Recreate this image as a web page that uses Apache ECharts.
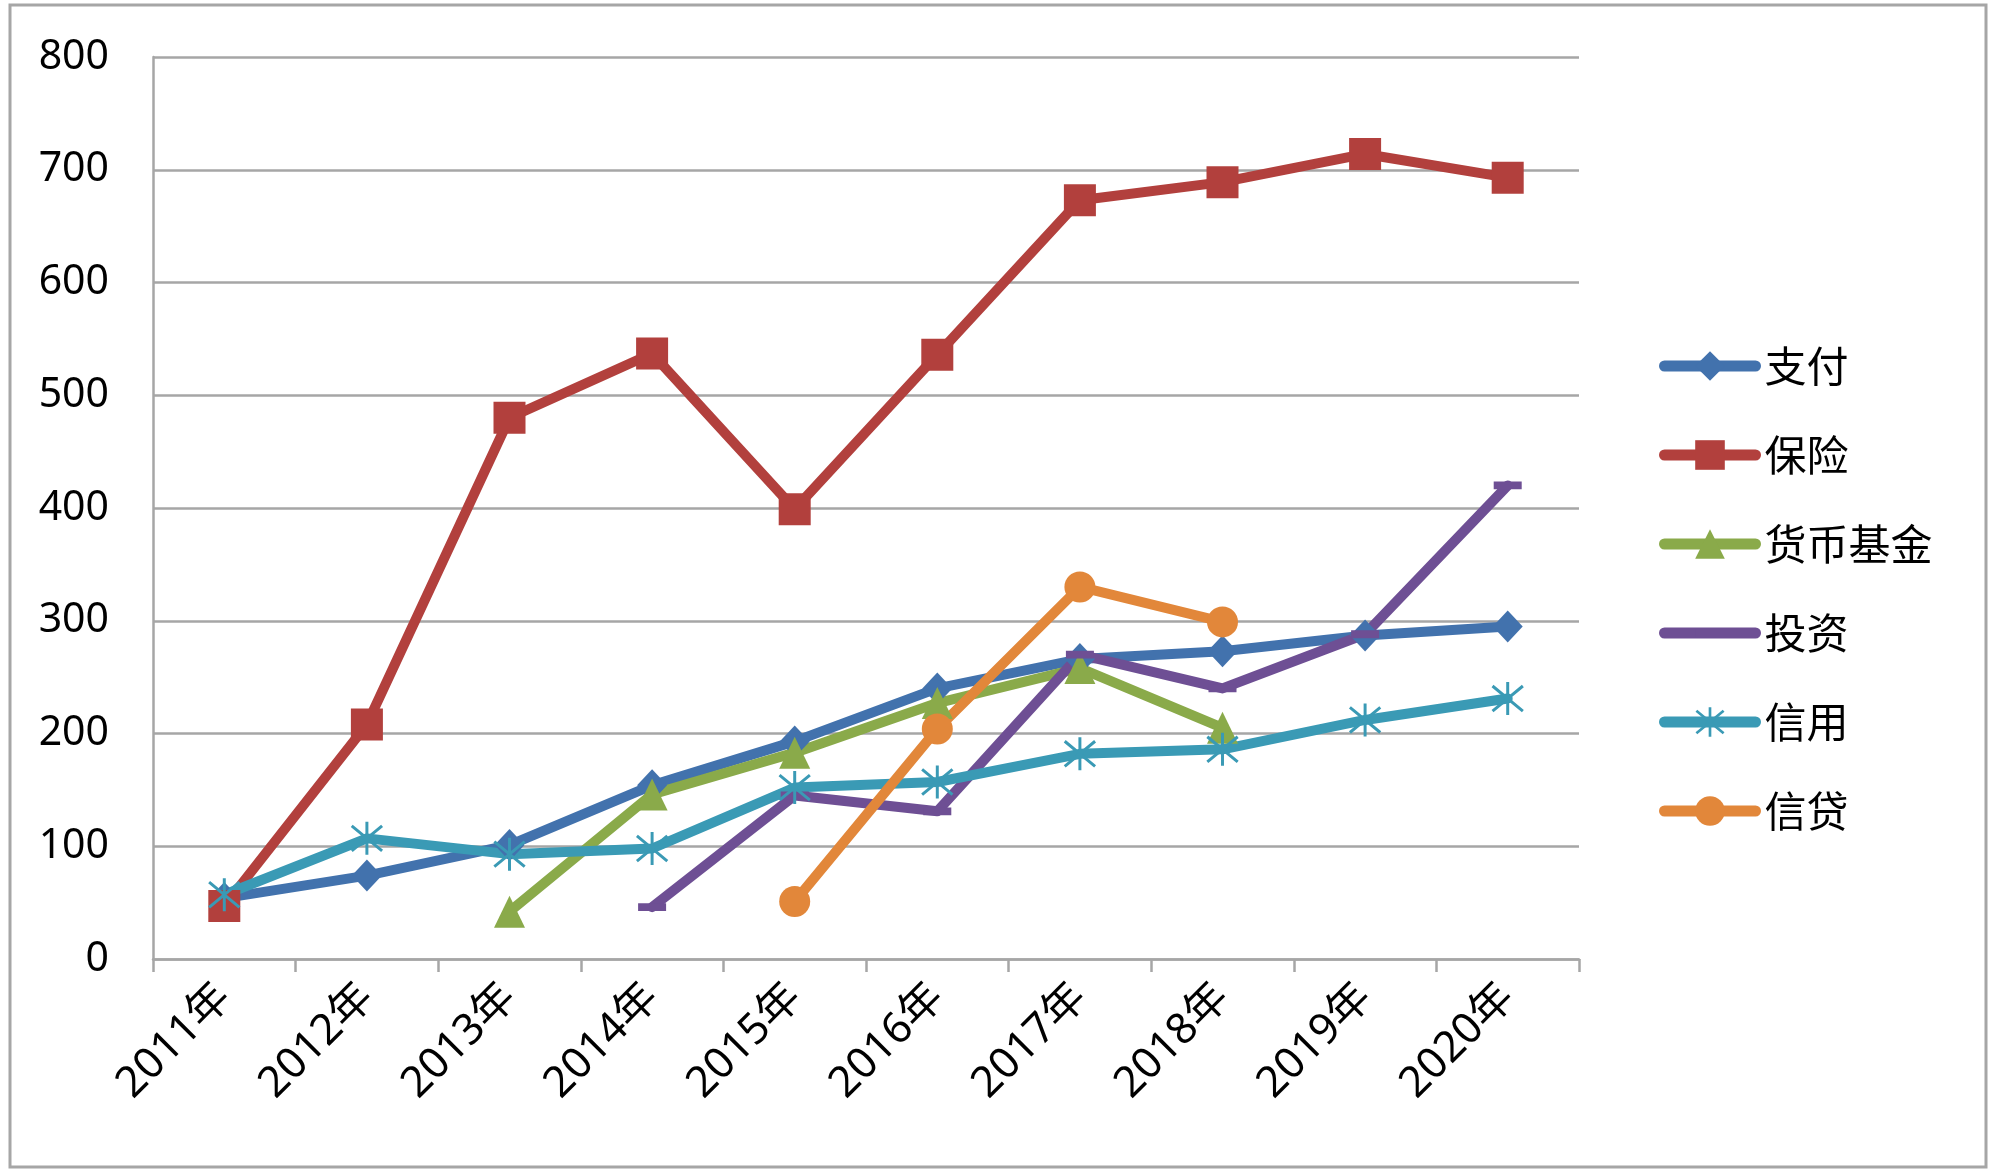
<!DOCTYPE html>
<html>
<head>
<meta charset="utf-8">
<script src="https://cdn.jsdelivr.net/npm/echarts@6/dist/echarts.min.js"></script>
<style>
html,body{margin:0;padding:0;background:#fff;}
#c{width:2000px;height:1176px;}
</style>
</head>
<body>
<div id="c"></div>
<script>
const categories = ['2011年','2012年','2013年','2014年','2015年','2016年','2017年','2018年','2019年','2020年'];
const yTicks = [0,100,200,300,400,500,600,700,800];
const zhifu   = [54, 74, 101, 154, 193, 240, 266, 273, 287, 295];
const baoxian = [47, 208, 480, 537, 399, 536, 673, 689, 714, 693];
const huobi   = [null, null, 42, 146, 183, 227, 258, 205, null, null];
const touzi   = [null, null, null, 46, 145, 131, 270, 240, 288, 420];
const xinyong = [57, 107, 93, 98, 152, 157, 182, 186, 212, 231];
const xindai  = [null, null, null, null, 51, 204, 330, 299, null, null];

// thin bar polygon between two points, clockwise on screen
function bar(x1,y1,x2,y2,h){
  const dx=x2-x1, dy=y2-y1, L=Math.hypot(dx,dy);
  const nx=-dy/L*h, ny=dx/L*h;
  let pts=[[x1+nx,y1+ny],[x2+nx,y2+ny],[x2-nx,y2-ny],[x1-nx,y1-ny]];
  let a=0; for(let i=0;i<4;i++){const p=pts[i],q=pts[(i+1)%4]; a+=p[0]*q[1]-q[0]*p[1];}
  if(a<0) pts.reverse();
  return 'M'+pts.map(p=>p[0].toFixed(2)+','+p[1].toFixed(2)).join(' L')+' Z';
}
const starPath = 'path://M0,0 L0.01,0 M100,100 L99.99,100 ' + bar(50,0,50,100,4.5) + ' ' + bar(4,12,96,88,4.5) + ' ' + bar(4,88,96,12,4.5);
const dashPath = 'path://M0,0 L0.01,0 M100,100 L99.99,100 M0,36 L100,36 L100,64 L0,64 Z';

const chart = echarts.init(document.getElementById('c'), null, {renderer:'canvas'});
const grey = '#a6a6a6';
function mk(name, data, color, symbol, size){
  return {
    name, type:'line', data, symbol, symbolSize:size,
    showAllSymbol:true, connectNulls:false,
    lineStyle:{color, width:10, cap:'round', join:'round'},
    itemStyle:{color, borderWidth:0},
    emphasis:{disabled:true},
    animation:false
  };
}
chart.setOption({
  animation:false,
  backgroundColor:'#fff',
  graphic:[{
    type:'rect', shape:{x:10,y:5,width:1976,height:1162},
    style:{fill:'none', stroke:grey, lineWidth:3}, z:-1
  }],
  grid:{left:153, right:421, top:57, bottom:217, containLabel:false},
  legend:{
    orient:'vertical', left:1654, top:336,
    itemWidth:91, itemHeight:37, itemGap:39,
    lineStyle:{width:11, cap:'round'},
    textStyle:{fontSize:42, color:'#000', fontFamily:'"Noto Sans CJK SC"', lineHeight:50, padding:[0,0,0,4]},
    data:['支付','保险','货币基金','投资','信用','信贷']
  },
  xAxis:{
    type:'category', data:categories, boundaryGap:true,
    axisLine:{lineStyle:{color:grey, width:2.5}},
    axisTick:{show:true, length:13, interval:0, lineStyle:{color:grey, width:2.5}},
    axisLabel:{rotate:45, interval:0, margin:32, fontSize:43, color:'#000', fontFamily:'"Noto Sans", "Noto Sans CJK SC"'},
    splitLine:{show:false}
  },
  yAxis:{
    type:'value', min:yTicks[0], max:yTicks[yTicks.length-1], interval:100,
    axisLine:{show:true, lineStyle:{color:grey, width:2.5}},
    axisTick:{show:false},
    axisLabel:{margin:44, fontSize:41, color:'#000', fontFamily:'"Noto Sans"'},
    splitLine:{lineStyle:{color:grey, width:2.5}}
  },
  series:[
    mk('支付', zhifu, '#4272ad', 'diamond', [30,32]),
    mk('保险', baoxian, '#b2403d', 'rect', 32),
    mk('货币基金', huobi, '#8aaa4a', 'triangle', [31,32]),
    mk('投资', touzi, '#6e4f94', dashPath, 28),
    mk('信用', xinyong, '#3a9ab5', starPath, 33),
    mk('信贷', xindai, '#e2873a', 'circle', 31)
  ]
});
</script>
</body>
</html>
